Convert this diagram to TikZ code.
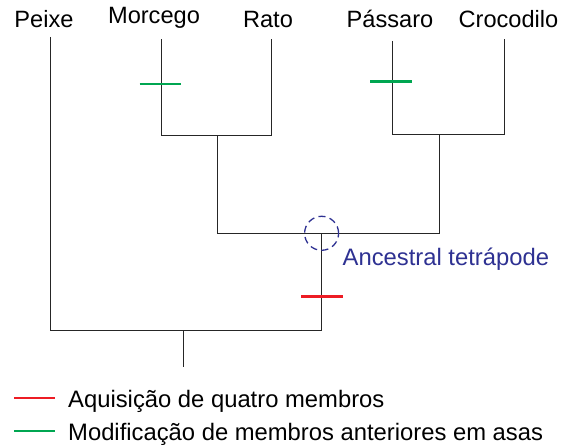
\documentclass[tikz,border=0pt]{standalone}
\usepackage{fontspec}
\setmainfont{Liberation Sans}
\usepackage{xcolor}
\usepackage{tikz}
\definecolor{limbred}{HTML}{ED1C24}
\definecolor{winggreen}{HTML}{00A651}
\definecolor{tetrablue}{HTML}{2E3192}
\tikzset{
  branch/.style={line width=1.4pt, draw=black!85},
  trait/.style={line width=2.4pt},
  taxon/.style={anchor=base, inner sep=0pt, font=\fontsize{23.6}{28}\selectfont},
  keytext/.style={anchor=base west, inner sep=0pt, font=\fontsize{23.8}{28}\selectfont},
  ancestor/.style={circle, draw=tetrablue, dash pattern=on 7pt off 4.4pt,
    line width=1.3pt, minimum size=34pt, inner sep=0pt}
}

\begin{document}
\begin{tikzpicture}[x=1pt,y=-1pt]
    \useasboundingbox (0,0) rectangle (569,444);
    %
    \node[taxon] (peixe) at (44,27.3) {Peixe};
    \node[taxon] (morcego) at (154,24) {Morcego};
    \node[taxon] (rato) at (268,27.3) {Rato};
    \node[taxon] (passaro) at (390,27.3) {Pássaro};
    \node[taxon] (crocodilo) at (508.5,27.3) {Crocodilo};
    %
    \coordinate (tPeixe) at (50.7,37);
    \coordinate (tMorcego) at (161.5,39.5);
    \coordinate (tRato) at (271.7,39.5);
    \coordinate (tPassaro) at (392.3,41);
    \coordinate (tCrocodilo) at (504.3,39.5);
    \coordinate (cMR) at (217.7,135.7);
    \coordinate (cPC) at (439.7,134.7);
    \coordinate (cTetra) at (321.6,233.3);
    \coordinate (cRoot) at (183.7,330.7);
    \coordinate (root) at (183.7,367.3);
    %
    \draw[branch] (tMorcego) |- (cMR) -| (tRato);
    \draw[branch] (tPassaro) |- (cPC) -| (tCrocodilo);
    \draw[branch] (cMR) |- (cTetra) -| (cPC);
    \draw[branch] (tPeixe) |- (cRoot) -| (cTetra);
    \draw[branch] (cRoot) -- (root);
    %
    \draw[trait, winggreen] (139.7,83.7) -- (181,83.7);
    \draw[trait, winggreen] (370.3,81.3) -- (411.7,81.3);
    \draw[trait, limbred] (301.4,296.5) -- (343,296.5);
    %
    \node[ancestor] (anc) at (cTetra) {};
    \node[keytext, text=tetrablue] (ancLabel) at (342.5,265) {Ancestral tetrápode};
    %
    \draw[line width=1.9pt, limbred] (14,398.3) -- (55,398.3);
    \node[keytext] (keyRed) at (68,407) {Aquisição de quatro membros};
    \draw[line width=1.9pt, winggreen] (14,431) -- (55,431);
    \node[keytext] (keyGreen) at (68,440) {Modificação de membros anteriores em asas};
  \end{tikzpicture}
\end{document}
